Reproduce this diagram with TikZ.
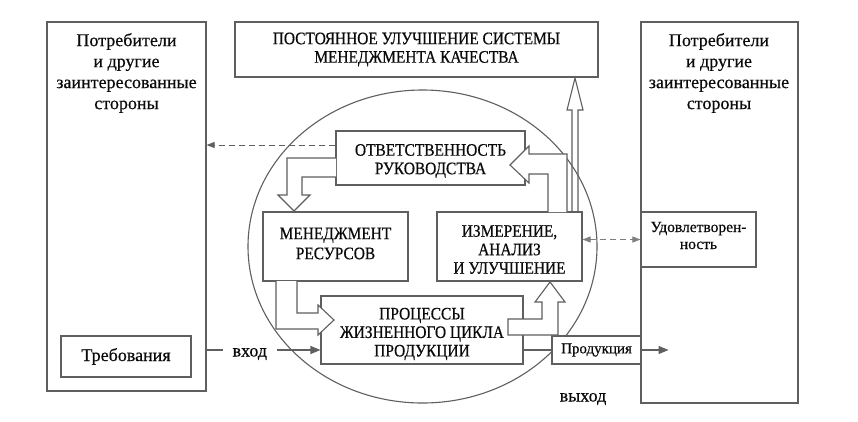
\documentclass[tikz,border=0pt]{standalone}
\usepackage{fontspec}
\setmainfont{Liberation Serif}[FakeBold=0.5]
\newfontfamily\capsfont{Liberation Serif}[FakeStretch=0.88,FakeBold=0.5]
\newfontfamily\lowfont{Liberation Serif}[FakeBold=0.5]
\usetikzlibrary{arrows.meta}
\definecolor{ln}{RGB}{95,95,95}
\definecolor{tx}{RGB}{10,10,10}
\tikzset{stip/.tip={Triangle[length=8pt,width=6pt]}}
\begin{document}
\begin{tikzpicture}[x=1pt,y=-1pt,
  box/.style={draw=ln, line width=1.1pt, fill=white, inner sep=0pt, text=tx, align=center},
  capst/.style={font=\capsfont\fontsize{17.5}{18.5}\selectfont},
  lowt/.style={font=\lowfont\fontsize{18}{21}\selectfont},
  plaintext/.style={text=tx, align=center, inner sep=0pt},
  hollow/.style={draw=ln, line width=1.1pt, fill=white, line join=miter},
  conn/.style={draw=ln, line width=1.1pt},
  tip/.style={-{Triangle[length=10pt,width=8pt]}},
  dashconn/.style={draw=ln, line width=1pt, dash pattern=on 6pt off 4pt},
]
\fill[white] (0,0) rectangle (858,421);
\draw[ln, line width=1.1pt] (422.5,246.5) ellipse [x radius=174.5pt, y radius=156.5pt];

\node[box, minimum width=159pt, minimum height=369pt] (L) at (126.5,206.5) {};
\node[plaintext, lowt, anchor=north] (Lt) at (126.5,33) {Потребители\\и другие\\заинтересованные\\стороны};
\node[box, lowt, minimum width=130pt, minimum height=41pt] (Req) at (126,356.5) {Требования};

\node[box, capst, minimum width=363pt, minimum height=55pt] (T) at (416.5,49.5) {ПОСТОЯННОЕ УЛУЧШЕНИЕ СИСТЕМЫ\\МЕНЕДЖМЕНТА КАЧЕСТВА};

\node[box, minimum width=157pt, minimum height=381pt] (R) at (719.5,212.5) {};
\node[plaintext, lowt, anchor=north] (Rt) at (719,33) {Потребители\\и другие\\заинтересованные\\стороны};
\node[box, minimum width=115pt, minimum height=55pt] (Sat) at (698.5,239.5) {};
\node[plaintext, font=\lowfont\fontsize{15.5}{17}\selectfont] (Satt) at ([yshift=4pt]Sat.center) {Удовлетворен-\\ность};

\node[box, minimum width=189pt, minimum height=54pt] (Resp) at (430.5,158) {};
\node[plaintext, capst] (Respt) at ([yshift=-3pt]Resp.center) {ОТВЕТСТВЕННОСТЬ\\РУКОВОДСТВА};
\node[box, minimum width=145pt, minimum height=69pt] (Res) at (335.5,246.5) {};
\node[plaintext, capst, font=\capsfont\fontsize{17.5}{20}\selectfont] (Rest) at ([yshift=3pt]Res.center) {МЕНЕДЖМЕНТ\\РЕСУРСОВ};
\node[box, minimum width=145pt, minimum height=69pt] (Meas) at (509.5,246.5) {};
\node[plaintext, capst] (Meast) at ([yshift=-3pt]Meas.center) {ИЗМЕРЕНИЕ,\\АНАЛИЗ\\И УЛУЧШЕНИЕ};
\node[box, minimum width=202pt, minimum height=68pt] (Proc) at (422,330) {};
\node[plaintext, capst] (Proct) at ([yshift=-4pt]Proc.center) {ПРОЦЕССЫ\\ЖИЗНЕННОГО ЦИКЛА\\ПРОДУКЦИИ};
\node[box, font=\lowfont\fontsize{15}{17}\selectfont, minimum width=89pt, minimum height=28pt] (Prod) at (596.5,350) {Продукция};

% hollow arrows
\path[hollow] (336,158) -- (287,158) -- (287,195) -- (278,195) -- (294,211) -- (310,195) -- (302,195) -- (302,177) -- (336,177);
\path[hollow] (567,212) -- (567,154) -- (529,154) -- (529,146) -- (510,165) -- (529,183) -- (529,174) -- (548,174) -- (548,212);
\path[draw=ln, line width=1.1pt, line join=miter] (572,212) -- (572,110) -- (567,110) -- (575,78) -- (583,110) -- (578,110) -- (578,212);
\path[hollow] (276,281) -- (276,329) -- (318,329) -- (318,335) -- (334,320) -- (318,305) -- (318,313) -- (297,313) -- (297,281);
\path[hollow] (508,319) -- (542,319) -- (542,302) -- (535,302) -- (550,282) -- (565,302) -- (558,302) -- (558,335) -- (508,335) -- cycle;

% connectors
\draw[dashconn, -stip] ([yshift=13pt]Resp.west) coordinate (d1) -- (d1 -| L.east);
\draw[dashconn, draw=ln!80, line width=0.8pt, stip-stip] (Sat.west -| Meas.east) -- (Sat.west);
\draw[conn, tip] (L.east |- Prod.west) -- node[pos=0.38, yshift=-4pt, fill=white, lowt, text=tx, inner xsep=10pt, inner ysep=1pt] (inlbl) {вход} (Proc.west |- Prod.west);
\draw[conn] (Proc.east |- Prod.west) -- (Prod.west);
\coordinate (pout) at ([xshift=27pt]Prod.east);
\draw[conn, tip] (Prod.east) -- (pout);
\node[plaintext, lowt] (outlbl) at (583,399) {выход};
\end{tikzpicture}
\end{document}
